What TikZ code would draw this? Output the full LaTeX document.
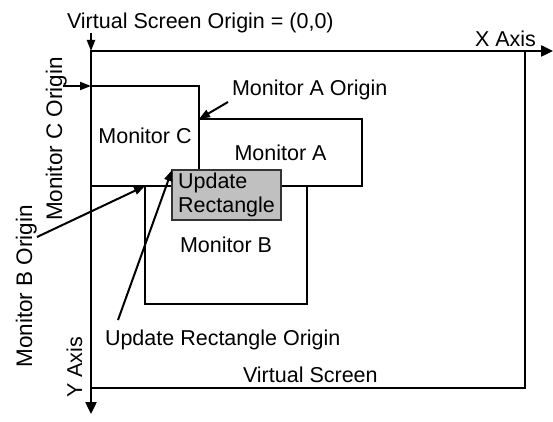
\documentclass[tikz,border=0pt]{standalone}
\usepackage{fontspec}
\setmainfont{Liberation Sans}
\usetikzlibrary{arrows.meta}
\definecolor{updfill}{HTML}{C0C0C0}
\definecolor{updline}{HTML}{333333}
\tikzset{
  lbl/.style={inner sep=0pt, outer sep=0pt, font=\fontsize{21.5}{24}\selectfont},
  sidelbl/.style={inner sep=0pt, outer sep=0pt, rotate=90, anchor=base east,
    font=\fontsize{22.5}{24}\selectfont},
  monbox/.style={draw, line width=1.3pt, inner sep=0pt, outer sep=0pt,
    font=\fontsize{21.5}{24}\selectfont},
  axisline/.style={line width=2.4pt, -{Triangle[length=12pt,width=11pt]}},
  pointer/.style={line width=2pt, -{Triangle[length=11pt,width=8pt]}},
}
\begin{document}
\begin{tikzpicture}[x=1pt,y=-1pt]
  \useasboundingbox (0,0) rectangle (553,422);

  % virtual screen frame
  \node[draw, line width=1.4pt, inner sep=0pt, outer sep=0pt, anchor=north west,
        minimum width=434pt, minimum height=337pt] (vs) at (91,51) {};
  \node[lbl, anchor=base west] (vslbl) at (243,382) {Virtual Screen};

  % monitors
  \node[monbox, minimum width=108pt, minimum height=100pt] (monC) at (145,136) {Monitor C};
  \node[monbox, minimum width=163pt, minimum height=67pt] (monA) at (280.5,152.5) {Monitor A};
  \node[monbox, minimum width=162pt, minimum height=118pt] (monB) at (226,245) {Monitor B};
  \node[monbox, draw=updline, line width=1.8pt, fill=updfill, align=left,
        minimum width=109pt, minimum height=50pt] (upd) at (226.5,195) {Update\\Rectangle};

  % axes
  \coordinate (O) at (91,51);
  \coordinate (xend) at (553,51);
  \coordinate (yend) at (91,414);
  \coordinate (otail) at (91,33);
  \draw[axisline] (O) -- (xend);
  \draw[axisline] (O) -- (yend);
  \draw[pointer] (otail) -- (O);
  \node[lbl, anchor=base west] (vsorigin) at (67,29) {Virtual Screen Origin = (0,0)};
  \node[lbl, anchor=base west] (xaxis) at (475,47) {X Axis};
  \node[lbl, rotate=90, anchor=base east] (yaxis) at (82,337) {Y Axis};

  % origin labels and pointers
  \node[lbl, anchor=base west] (labA) at (232,96) {Monitor A Origin};
  \coordinate (tA) at (228,102);
  \draw[pointer] (tA) -- (monA.north west);

  \node[sidelbl] (labC) at (62,57) {Monitor C Origin};
  \coordinate (tC) at (63,86);
  \draw[pointer] (tC) -- (monC.north west);

  \node[sidelbl] (labB) at (32,205) {Monitor B Origin};
  \coordinate (tB) at (37,237);
  \draw[pointer] (tB) -- (monB.north west);

  \node[lbl, anchor=base west] (labU) at (105,345) {Update Rectangle Origin};
  \coordinate (tU) at (118,320);
  \draw[pointer] (tU) -- (upd.north west);
\end{tikzpicture}
\end{document}
